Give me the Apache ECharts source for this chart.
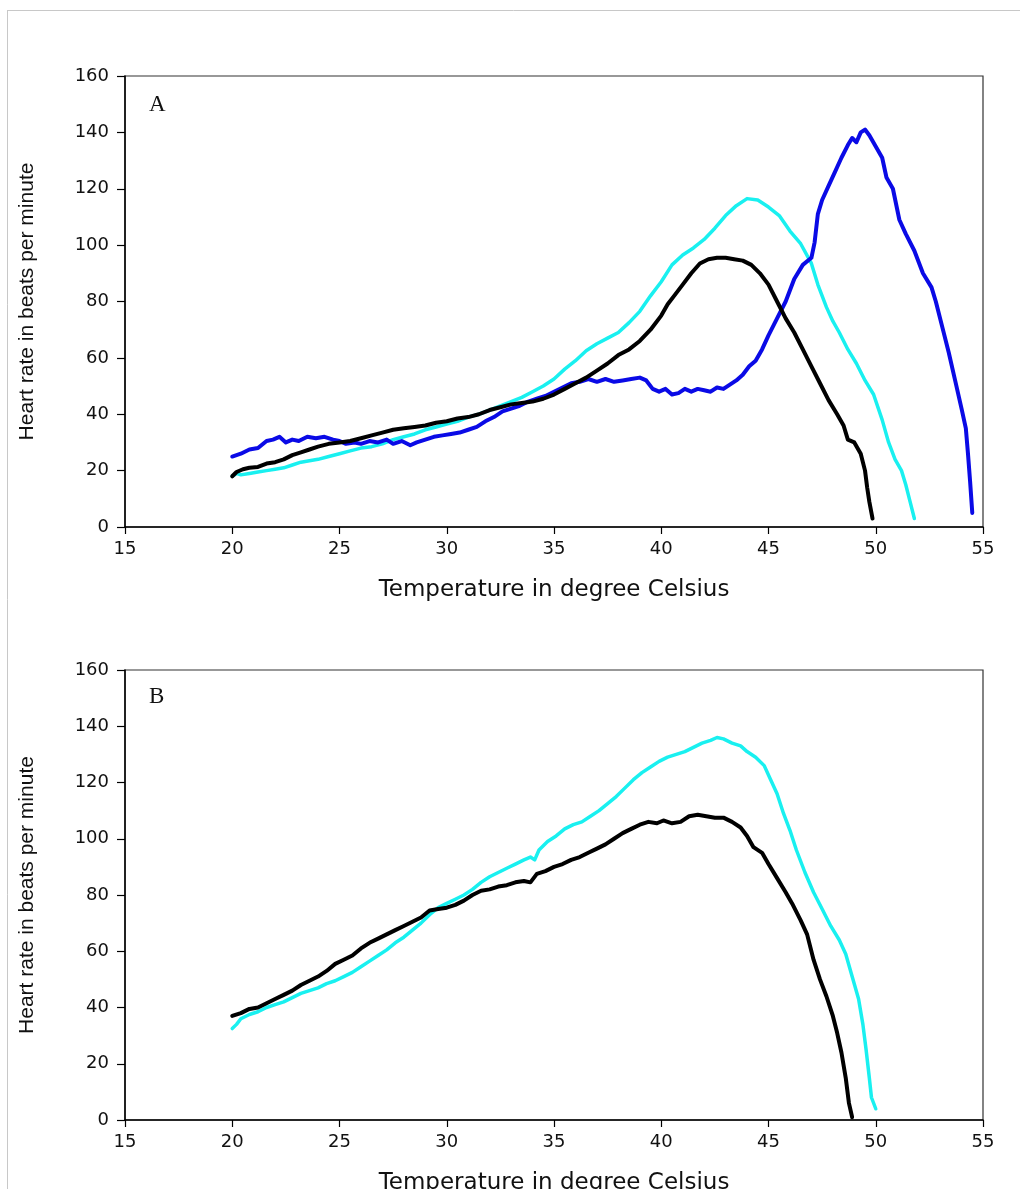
<!DOCTYPE html>
<html>
<head>
<meta charset="utf-8">
<script src="https://cdn.jsdelivr.net/npm/echarts@6/dist/echarts.min.js"></script>
<style>
html,body{margin:0;padding:0;background:#fff;}
#chart{width:1020px;height:1189px;}
</style>
</head>
<body>
<div id="chart"></div>
<script>
// ---- Data (temperature in °C, heart rate in bpm) ----
const xTicks = [15, 20, 25, 30, 35, 40, 45, 50, 55];
const yTicks = [0, 20, 40, 60, 80, 100, 120, 140, 160];
const panelLabels = ['A', 'B'];
const xName = 'Temperature in degree Celsius';
const yName = 'Heart rate in beats per minute';

// Panel A
const aBlack = [[20.0,18],[20.2,19.5],[20.5,20.5],[20.8,21],[21.2,21.3],[21.6,22.5],[22.0,23],[22.4,24],[22.8,25.5],[23.2,26.5],[23.6,27.5],[24.0,28.5],[24.5,29.5],[25.0,30],[25.5,30.5],[26.0,31.5],[26.5,32.5],[27.0,33.5],[27.5,34.5],[28.0,35],[28.5,35.5],[29.0,36],[29.5,37],[30.0,37.5],[30.5,38.5],[31.0,39],[31.5,40],[32.0,41.5],[32.5,42.5],[33.0,43.5],[33.5,44],[34.0,44.5],[34.5,45.5],[35.0,47],[35.5,49],[36.0,51],[36.5,53],[37.0,55.5],[37.5,58],[38.0,61],[38.5,63],[39.0,66],[39.5,70],[40.0,75],[40.3,79],[40.6,82],[41.0,86],[41.4,90],[41.8,93.5],[42.2,95],[42.6,95.5],[43.0,95.5],[43.4,95],[43.8,94.5],[44.2,93],[44.6,90],[45.0,86],[45.4,80],[45.8,74],[46.2,69],[46.6,63],[47.0,57],[47.4,51],[47.8,45],[48.2,40],[48.5,36],[48.7,31],[49.0,30],[49.3,26],[49.5,20],[49.6,14],[49.7,9],[49.85,3]];
const aCyan = [[20.0,18],[20.2,19],[20.4,18.5],[20.8,19],[21.2,19.5],[21.6,20],[22.0,20.5],[22.4,21],[22.8,22],[23.2,23],[23.6,23.5],[24.0,24],[24.5,25],[25.0,26],[25.5,27],[26.0,28],[26.5,28.5],[27.0,29.5],[27.5,31],[28.0,32],[28.5,33],[29.0,34.5],[29.5,35.5],[30.0,36.5],[30.5,37.5],[31.0,39],[31.5,40],[32.0,41.5],[32.5,43],[33.0,44.5],[33.5,46],[34.0,48],[34.5,50],[35.0,52.5],[35.5,56],[36.0,59],[36.5,62.5],[37.0,65],[37.5,67],[38.0,69],[38.5,72.5],[39.0,76.5],[39.5,82],[40.0,87],[40.5,93],[41.0,96.5],[41.5,99],[42.0,102],[42.5,106],[43.0,110.5],[43.5,114],[44.0,116.5],[44.5,116],[45.0,113.5],[45.5,110.5],[46.0,105],[46.5,100.5],[47.0,93.5],[47.3,86],[47.7,78],[48.0,73],[48.3,69],[48.7,63],[49.1,58],[49.5,52],[49.9,47],[50.3,38],[50.6,30],[50.9,24],[51.2,20],[51.4,15],[51.6,9],[51.8,3]];
const aBlue = [[20.0,25],[20.4,26],[20.8,27.5],[21.2,28],[21.6,30.5],[21.9,31],[22.2,32],[22.5,30],[22.8,31],[23.1,30.5],[23.5,32],[23.9,31.5],[24.3,32],[24.7,31],[25.0,30.5],[25.3,29.5],[25.7,30],[26.0,29.5],[26.4,30.5],[26.8,30],[27.2,31],[27.5,29.5],[27.9,30.5],[28.3,29],[28.6,30],[29.0,31],[29.4,32],[29.8,32.5],[30.2,33],[30.6,33.5],[31.0,34.5],[31.4,35.5],[31.8,37.5],[32.2,39],[32.6,41],[33.0,42],[33.4,43],[33.8,44.5],[34.2,45.5],[34.6,46.5],[35.0,48],[35.4,49.5],[35.8,51],[36.2,51.5],[36.6,52.5],[37.0,51.5],[37.4,52.5],[37.8,51.5],[38.2,52],[38.6,52.5],[39.0,53],[39.3,52],[39.6,49],[39.9,48],[40.2,49],[40.5,47],[40.8,47.5],[41.1,49],[41.4,48],[41.7,49],[42.0,48.5],[42.3,48],[42.6,49.5],[42.9,49],[43.2,50.5],[43.5,52],[43.8,54],[44.1,57],[44.4,59],[44.7,63],[45.0,68],[45.4,74],[45.8,80],[46.2,88],[46.6,93],[47.0,95.5],[47.15,101],[47.3,111],[47.5,116],[47.8,121],[48.1,126],[48.4,131],[48.7,135.5],[48.9,138],[49.1,136.5],[49.3,140],[49.5,141],[49.7,139],[50.0,135],[50.3,131],[50.5,124],[50.8,120],[51.1,109],[51.4,104],[51.8,98],[52.2,90],[52.6,85],[52.8,80],[53.1,71],[53.4,62],[53.7,52],[54.0,42],[54.2,35],[54.3,26],[54.4,16],[54.5,5]];

// Panel B
const bBlack = [[20.0,37],[20.4,38],[20.8,39.5],[21.2,40],[21.6,41.5],[22.0,43],[22.4,44.5],[22.8,46],[23.2,48],[23.6,49.5],[24.0,51],[24.4,53],[24.8,55.5],[25.2,57],[25.6,58.5],[26.0,61],[26.4,63],[26.8,64.5],[27.2,66],[27.6,67.5],[28.0,69],[28.4,70.5],[28.8,72],[29.2,74.5],[29.6,75],[30.0,75.5],[30.4,76.5],[30.8,78],[31.2,80],[31.6,81.5],[32.0,82],[32.4,83],[32.8,83.5],[33.2,84.5],[33.6,85],[33.9,84.5],[34.2,87.5],[34.6,88.5],[35.0,90],[35.4,91],[35.8,92.5],[36.2,93.5],[36.6,95],[37.0,96.5],[37.4,98],[37.8,100],[38.2,102],[38.6,103.5],[39.0,105],[39.4,106],[39.8,105.5],[40.1,106.5],[40.5,105.5],[40.9,106],[41.3,108],[41.7,108.5],[42.1,108],[42.5,107.5],[42.9,107.5],[43.3,106],[43.7,104],[44.0,101],[44.3,97],[44.7,95],[45.0,91],[45.4,86],[45.8,81],[46.1,77],[46.5,71],[46.8,66],[47.1,57],[47.4,50],[47.7,44],[48.0,37],[48.2,31],[48.4,24],[48.6,15],[48.75,6],[48.9,1]];
const bCyan = [[20.0,32.5],[20.2,34],[20.4,36],[20.8,37.5],[21.2,38.5],[21.6,40],[22.0,41],[22.4,42],[22.8,43.5],[23.2,45],[23.6,46],[24.0,47],[24.4,48.5],[24.8,49.5],[25.2,51],[25.6,52.5],[26.0,54.5],[26.4,56.5],[26.8,58.5],[27.2,60.5],[27.6,63],[28.0,65],[28.4,67.5],[28.8,70],[29.2,73],[29.6,75.5],[30.0,77],[30.4,78.5],[30.8,80],[31.2,82],[31.6,84.5],[32.0,86.5],[32.4,88],[32.8,89.5],[33.2,91],[33.6,92.5],[33.9,93.5],[34.1,92.5],[34.3,96],[34.7,99],[35.1,101],[35.5,103.5],[35.9,105],[36.3,106],[36.7,108],[37.1,110],[37.5,112.5],[37.9,115],[38.3,118],[38.7,121],[39.1,123.5],[39.5,125.5],[39.9,127.5],[40.3,129],[40.7,130],[41.1,131],[41.5,132.5],[41.9,134],[42.3,135],[42.6,136],[42.9,135.5],[43.3,134],[43.7,133],[44.0,131],[44.4,129],[44.8,126],[45.1,121],[45.4,116],[45.7,109],[46.0,103],[46.3,96],[46.7,88],[47.1,81],[47.5,75],[47.9,69],[48.3,64],[48.6,59],[48.9,51],[49.2,43],[49.4,34],[49.55,25],[49.7,15],[49.8,8],[50.0,4]];

const C_BLACK = '#000000', C_CYAN = '#19f0f0', C_BLUE = '#0a0ae6';

const chart = echarts.init(document.getElementById('chart'), null, {renderer: 'canvas'});

const grids = [
  {left: 125, top: 76, width: 858, height: 451},
  {left: 125, top: 670, width: 858, height: 450}
];

function xAx(i) {
  return {
    gridIndex: i, type: 'value', min: xTicks[0], max: xTicks[xTicks.length-1], interval: 5,
    name: xName, nameLocation: 'middle', nameGap: 52,
    nameTextStyle: {fontFamily: 'DejaVu Sans', fontSize: 23, color: '#111'},
    axisLine: {onZero: false, lineStyle: {color: '#000', width: 1.5}},
    axisTick: {inside: false, length: 7, lineStyle: {color: '#000', width: 1.2}},
    axisLabel: {margin: 13, fontFamily: 'DejaVu Sans', fontSize: 18, color: '#111'},
    splitLine: {show: false}
  };
}
function yAx(i) {
  return {
    gridIndex: i, type: 'value', min: yTicks[0], max: yTicks[yTicks.length-1], interval: 20,
    name: yName, nameLocation: 'middle', nameGap: 87,
    nameTextStyle: {fontFamily: 'Liberation Sans', fontSize: 21, color: '#111'},
    axisLine: {onZero: false, lineStyle: {color: '#000', width: 1.5}},
    axisTick: {inside: false, length: 8, lineStyle: {color: '#000', width: 1.2}},
    axisLabel: {margin: 16, fontFamily: 'DejaVu Sans', fontSize: 18, color: '#111'},
    splitLine: {show: false}
  };
}
function ser(data, color, width, gi) {
  return {
    type: 'line', data: data, xAxisIndex: gi, yAxisIndex: gi,
    showSymbol: false, symbol: 'none', smooth: false,
    lineStyle: {color: color, width: width, join: 'round', cap: 'round'},
    itemStyle: {color: color}
  };
}

chart.setOption({
  animation: false,
  backgroundColor: '#ffffff',
  grid: grids.map(g => Object.assign({show: true, borderColor: '#333', borderWidth: 1.2, backgroundColor: 'transparent', containLabel: false, outerBoundsMode: 'none'}, g)),
  xAxis: [xAx(0), xAx(1)],
  yAxis: [yAx(0), yAx(1)],
  series: [
    ser(aCyan, C_CYAN, 3.5, 0),
    ser(aBlue, C_BLUE, 4, 0),
    ser(aBlack, C_BLACK, 4, 0),
    ser(bCyan, C_CYAN, 3.5, 1),
    ser(bBlack, C_BLACK, 4, 1)
  ],
  graphic: [
    {type: 'line', shape: {x1: 7, y1: 10.5, x2: 1020, y2: 10.5}, style: {stroke: '#c8c8c8', lineWidth: 1}, silent: true},
    {type: 'line', shape: {x1: 7.5, y1: 10, x2: 7.5, y2: 1189}, style: {stroke: '#c8c8c8', lineWidth: 1}, silent: true},
    {type: 'text', left: 149, top: 93, style: {text: panelLabels[0], font: '23px "Liberation Serif"', fill: '#111'}},
    {type: 'text', left: 149, top: 685, style: {text: panelLabels[1], font: '23px "Liberation Serif"', fill: '#111'}}
  ]
});
</script>
</body>
</html>
